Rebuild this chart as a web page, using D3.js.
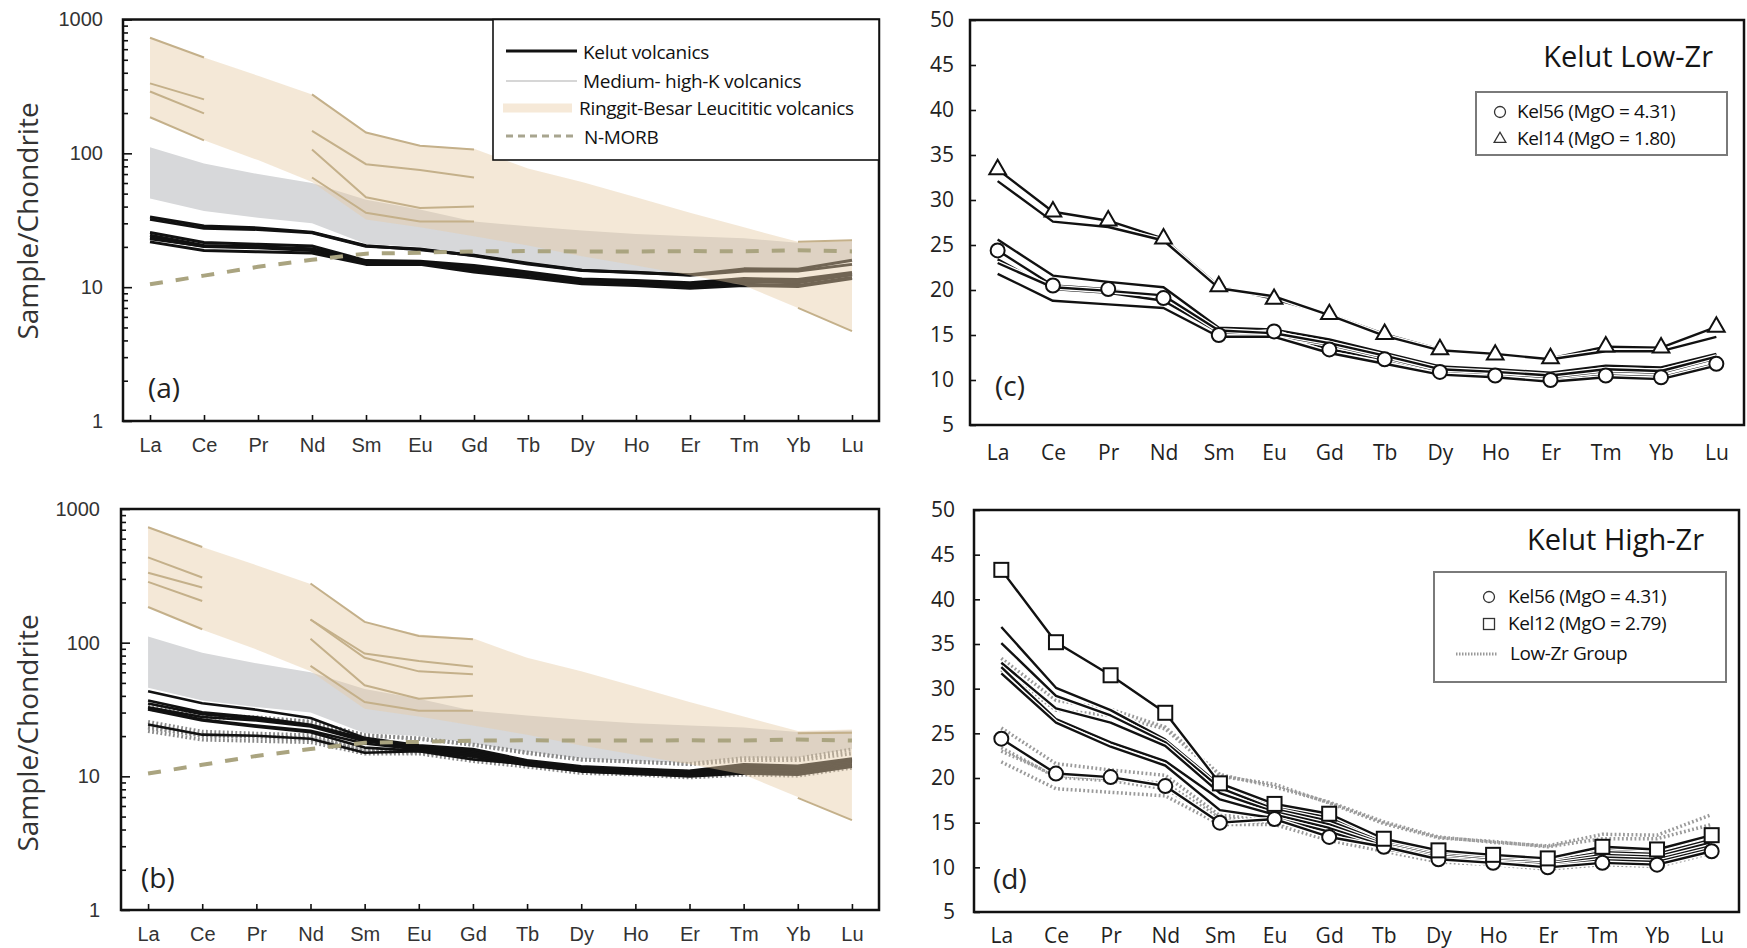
<!DOCTYPE html>
<html><head><meta charset="utf-8">
<script src="https://cdn.jsdelivr.net/npm/d3@7"></script>
<style>body{margin:0;background:#fff} svg{display:block}</style>
</head><body>
<svg id="chart" width="1747" height="948"></svg>
<script>
// ---------------- DATA ----------------
const elements = ["La","Ce","Pr","Nd","Sm","Eu","Gd","Tb","Dy","Ho","Er","Tm","Yb","Lu"];
const logTickValues = [1,10,100,1000];
const linTickValues = [5,10,15,20,25,30,35,40,45,50];

// N-MORB, chondrite normalised
const nMorb = [10.5,12.2,14.2,16.0,17.8,18.1,18.5,18.6,18.5,18.5,18.6,18.5,18.9,18.5];

// Ringgit-Besar leucititic field
const ringgitUpper = [740,520,380,275,143,115,108,77,61,47,36,28,21.8,22.4];
const ringgitLower = [186,125,89,61,32,28,24,20.5,17,14.5,12.3,10.3,7.0,4.7];
// Medium- high-K field
const medKUpper = [111,84,70,60,45,38,31,28.5,26.5,25,24,23.2,21.5,22];
const medKLower = [46,37,33,30,21,20,17.5,15.3,13.6,13.0,12.6,13.8,13.8,16];

// Ringgit-Besar individual samples (partial patterns)
const ringgitLaCeA = [[730,520],[333,253],[290,199],[186,125]];
const ringgitNdGdA = [[276,143,114,107],[147,83,75,66],[107,47,39,40],[66,36,31,31]];
const ringgitYbLuA = [[21.8,22.4],[7.0,4.7]];
const ringgitLaCeB = [[730,520],[435,307],[333,259],[285,205],[185,126]];
const ringgitNdGdB = [[277,143,112,106],[149,83,73,66],[149,77,61,58],[107,48,38,40],[67,36,31,31]];
const ringgitYbLuB = [[21.0,21.2],[6.9,4.7]];

// Kelut Low-Zr group
const kel14   = [33.4,28.7,27.7,25.7,20.4,19.0,17.3,15.1,13.4,12.8,12.4,13.7,13.6,15.9];
const kel56   = [24.4,20.5,20.1,19.1,15.0,15.4,13.4,12.3,10.9,10.5,10.0,10.5,10.3,11.8];
const lowZrB  = [32.1,27.6,27.0,25.5,20.2,19.3,17.2,14.9,13.3,12.9,12.3,13.2,13.2,14.8];
const lowZrC  = [25.6,21.6,20.9,20.3,15.8,15.6,14.5,13.0,11.5,11.2,10.8,11.6,11.4,12.9];
const lowZrD  = [23.4,20.1,19.7,18.8,15.3,15.0,13.9,12.5,11.0,10.7,10.3,11.0,10.8,12.4];
const lowZrE  = [23.0,20.3,19.9,19.4,15.5,15.2,14.1,12.7,11.2,10.9,10.5,11.2,11.0,12.6];
const lowZrF  = [21.8,18.8,18.4,18.0,14.8,14.8,13.0,11.8,10.6,10.3,9.8,10.3,10.1,11.6];

// Kelut High-Zr group
const kel12   = [43.3,35.2,31.5,27.3,19.4,17.1,16.0,13.2,11.9,11.4,11.0,12.3,12.0,13.6];
const highZrB = [36.9,30.1,27.6,24.3,19.2,16.8,15.6,13.0,11.7,11.2,10.9,12.0,11.7,13.4];
const highZrC = [35.1,29.2,27.0,24.0,18.9,16.5,15.2,12.8,11.5,11.0,10.7,11.7,11.5,13.1];
const highZrD = [32.9,27.8,26.2,23.6,18.3,16.2,14.8,12.6,11.3,10.8,10.5,11.4,11.2,12.8];
const highZrE = [32.4,26.6,24.0,21.9,17.6,15.9,14.4,12.4,11.1,10.6,10.3,11.1,10.9,12.4];
const highZrF = [31.7,26.2,23.5,21.4,16.4,15.5,14.0,12.1,10.9,10.4,10.1,10.8,10.6,12.1];

const lowZrAll  = [kel14, lowZrB, lowZrC, kel56, lowZrD, lowZrE, lowZrF];
const lowZrOthers = [kel14, lowZrB, lowZrC, lowZrD, lowZrE, lowZrF];
const highZrAll = [highZrB, highZrC, highZrD, highZrE, highZrF, kel12];

const legendLabelsA = ["Kelut volcanics","Medium- high-K volcanics","Ringgit-Besar Leucititic volcanics","N-MORB"];
const legendLabelsC = ["Kel56 (MgO = 4.31)","Kel14 (MgO = 1.80)"];
const legendLabelsD = ["Kel56 (MgO = 4.31)","Kel12 (MgO = 2.79)","Low-Zr Group"];
const yTitle = "Sample/Chondrite";

// ---------------- STYLE ----------------
const SANS = "'Open Sans', 'Noto Sans', sans-serif";
const ARIAL = "'Liberation Sans', Arial, sans-serif";
const BEIGE = "#e6cba6", BEIGE_OP = 0.45;
const GRAY = "#d7d8da";
const TAN = "#c4b08a";
const MORB = "#aaa480";
const DOT = "#8a8a8a";

const svg = d3.select("#chart");
const defs = svg.append("defs");

const panels = {
  a: {x0:123, x1:879, y0:19.5, y1:421, log:true},
  b: {x0:121, x1:879, y0:509, y1:910, log:true},
  c: {x0:970, x1:1744, y0:20, y1:425, log:false},
  d: {x0:974, x1:1739, y0:510, y1:912, log:false}
};

function scales(p){
  const x = d3.scalePoint().domain(elements).range([p.x0, p.x1]).padding(0.5);
  const y = p.log ? d3.scaleLog().domain([1,1000]).range([p.y1, p.y0])
                  : d3.scaleLinear().domain([5,50]).range([p.y1, p.y0]);
  return {x, y};
}
function lineGen(x, y, start){
  return d3.line().x((d,i)=>x(elements[(start||0)+i])).y(d=>y(d));
}
function clipFor(id, p){
  defs.append("clipPath").attr("id","clip-"+id).append("rect")
    .attr("x",p.x0).attr("y",p.y0).attr("width",p.x1-p.x0).attr("height",p.y1-p.y0);
  return "url(#clip-"+id+")";
}
function box(g, p){
  g.append("rect").attr("x",p.x0).attr("y",p.y0).attr("width",p.x1-p.x0).attr("height",p.y1-p.y0)
    .attr("fill","none").attr("stroke","#111").attr("stroke-width",2.5);
}

// ---------- log panels (a) & (b) ----------
function drawLogPanel(id, opt){
  const p = panels[id];
  const {x, y} = scales(p);
  const g = svg.append("g");
  const plot = g.append("g").attr("clip-path", clipFor(id,p));
  const idx = d3.range(elements.length);

  plot.append("path")
    .attr("d", d3.area().x(i=>x(elements[i])).y0(i=>y(medKLower[i])).y1(i=>y(medKUpper[i]))(idx))
    .attr("fill", GRAY);

  (opt.dotted||[]).forEach(s=>{
    plot.append("path").attr("d", lineGen(x,y)(s)).attr("fill","none")
      .attr("stroke",DOT).attr("stroke-width",3.8).attr("stroke-dasharray","1.8,2.4");
  });
  opt.black.forEach(s=>{
    plot.append("path").attr("d", lineGen(x,y)(s)).attr("fill","none")
      .attr("stroke","#111").attr("stroke-width",opt.lw).attr("stroke-linejoin","round");
  });

  plot.append("path")
    .attr("d", d3.area().x(i=>x(elements[i])).y0(i=>y(ringgitLower[i])).y1(i=>y(ringgitUpper[i]))(idx))
    .attr("fill", BEIGE).attr("fill-opacity", BEIGE_OP);

  const tanLine = (s, start)=> plot.append("path").attr("d", lineGen(x,y,start)(s))
      .attr("fill","none").attr("stroke",TAN).attr("stroke-width",2);
  opt.laCe.forEach(s=>tanLine(s,0));
  opt.ndGd.forEach(s=>tanLine(s,3));
  opt.ybLu.forEach(s=>tanLine(s,12));

  plot.append("path").attr("d", lineGen(x,y)(nMorb)).attr("fill","none")
    .attr("stroke",MORB).attr("stroke-width",4).attr("stroke-dasharray","13,13");

  const yMajor = d3.axisLeft(y).tickValues(logTickValues).tickFormat(d3.format("d"))
    .tickSize(-9).tickPadding(opt.yPad);
  const yMinor = d3.axisLeft(y).tickValues(y.ticks().filter(v=>!logTickValues.includes(v)))
    .tickFormat("").tickSize(-5);
  const ga = g.append("g").attr("transform",`translate(${p.x0},0)`).call(yMajor);
  const gm = g.append("g").attr("transform",`translate(${p.x0},0)`).call(yMinor);
  const gx = g.append("g").attr("transform",`translate(0,${p.y1})`)
    .call(d3.axisBottom(x).tickSize(-6).tickPadding(17));
  [ga,gm,gx].forEach(a=>{
    a.select(".domain").remove();
    a.selectAll("line").attr("stroke","#111").attr("stroke-width",1.6);
    a.selectAll("text").attr("font-family",ARIAL).attr("font-size",20).attr("fill","#333");
  });
  box(g,p);

  g.append("text").attr("transform",`translate(38,${opt.titleY}) rotate(-90)`)
    .attr("text-anchor","middle").attr("font-family",SANS).attr("font-size",28).attr("fill","#333")
    .text(yTitle);
  g.append("text").attr("x",opt.tagX).attr("y",opt.tagY).attr("font-family",SANS)
    .attr("font-size",28).attr("fill","#222").text(opt.tag);
  return g;
}

const gA = drawLogPanel("a", {black: lowZrAll, lw:3, laCe:ringgitLaCeA, ndGd:ringgitNdGdA, ybLu:ringgitYbLuA,
  yPad:20, titleY:221, tag:"(a)", tagX:148, tagY:398});
drawLogPanel("b", {black: highZrAll.concat([kel56]), dotted: lowZrOthers, lw:2.6,
  laCe:ringgitLaCeB, ndGd:ringgitNdGdB, ybLu:ringgitYbLuB,
  yPad:21, titleY:733, tag:"(b)", tagX:141, tagY:888});

// legend (a)
(function(){
  const L = gA.append("g");
  L.append("rect").attr("x",493).attr("y",19.5).attr("width",386).attr("height",140.5)
    .attr("fill","#fff").attr("stroke","#111").attr("stroke-width",1.6);
  const rows = [
    {y:51, tb:59, tx:583, s:{stroke:"#111", w:3}},
    {y:81, tb:88, tx:583, s:{stroke:"#d6d6d6", w:2}},
    {y:108, tb:115, tx:579, s:{stroke:"#f6e9d8", w:9}},
    {y:136, tb:144, tx:584, s:{stroke:"#a8a58f", w:3, dash:"7,5"}}
  ];
  rows.forEach((r,i)=>{
    L.append("line").attr("x1",i===2?503:506).attr("x2",i===2?572:577).attr("y1",r.y).attr("y2",r.y)
      .attr("stroke",r.s.stroke).attr("stroke-width",r.s.w).attr("stroke-dasharray",r.s.dash||null);
    L.append("text").attr("x",r.tx).attr("y",r.tb).attr("font-family",SANS).attr("font-size",19)
      .attr("fill","#111").attr("letter-spacing","-0.3").text(legendLabelsA[i]);
  });
})();

// ---------- linear panels (c) & (d) ----------
function markerCircle(g, cx, cy, r, sw){
  g.append("circle").attr("cx",cx).attr("cy",cy).attr("r",r).attr("fill","#fff")
    .attr("stroke","#111").attr("stroke-width",sw);
}
function markerSquare(g, cx, cy, s, sw){
  g.append("rect").attr("x",cx-s/2).attr("y",cy-s/2).attr("width",s).attr("height",s)
    .attr("fill","#fff").attr("stroke","#111").attr("stroke-width",sw);
}
function markerTri(g, cx, cy, size, sw){
  g.append("path").attr("d", d3.symbol(d3.symbolTriangle, size)())
    .attr("transform",`translate(${cx},${cy})`).attr("fill","#fff")
    .attr("stroke","#111").attr("stroke-width",sw);
}

function drawLinPanel(id, opt){
  const p = panels[id];
  const {x, y} = scales(p);
  const g = svg.append("g");
  const plot = g.append("g").attr("clip-path", clipFor(id,p));

  (opt.dotted||[]).forEach(s=>{
    plot.append("path").attr("d", lineGen(x,y)(s)).attr("fill","none")
      .attr("stroke","#9a9a9a").attr("stroke-width",3.5).attr("stroke-dasharray","1.8,2.4");
  });
  opt.black.forEach(s=>{
    plot.append("path").attr("d", lineGen(x,y)(s)).attr("fill","none")
      .attr("stroke","#fff").attr("stroke-width",5);
    plot.append("path").attr("d", lineGen(x,y)(s)).attr("fill","none")
      .attr("stroke","#111").attr("stroke-width",2.4).attr("stroke-linejoin","round");
  });
  opt.markers.forEach(m=>{
    m.data.forEach((v,i)=>m.fn(plot, x(elements[i]), y(v)));
  });

  const gy = g.append("g").attr("transform",`translate(${p.x0},0)`)
    .call(d3.axisLeft(y).tickValues(linTickValues).tickSize(-6).tickPadding(opt.yPad));
  const gx = g.append("g").attr("transform",`translate(0,${p.y1})`)
    .call(d3.axisBottom(x).tickSize(0).tickPadding(opt.xPad));
  [gy,gx].forEach(a=>{
    a.select(".domain").remove();
    a.selectAll("line").attr("stroke","#111").attr("stroke-width",1.6);
    a.selectAll("text").attr("font-family",SANS).attr("font-size",21).attr("fill","#222");
  });
  box(g,p);

  g.append("text").attr("x",opt.titleX).attr("y",opt.titleY).attr("text-anchor","end")
    .attr("font-family",SANS).attr("font-size",29).attr("fill","#151515").text(opt.title);
  g.append("text").attr("x",opt.tagX).attr("y",opt.tagY).attr("font-family",SANS)
    .attr("font-size",28).attr("fill","#222").text(opt.tag);
  return g;
}

const gC = drawLinPanel("c", {
  black: lowZrAll,
  markers: [
    {data: kel56, fn:(g,cx,cy)=>markerCircle(g,cx,cy,7,2)},
    {data: kel14, fn:(g,cx,cy)=>markerTri(g,cx,cy,120,2)}
  ],
  yPad:16, xPad:20, title:"Kelut Low-Zr", titleX:1713, titleY:67, tag:"(c)", tagX:995, tagY:396
});
const gD = drawLinPanel("d", {
  black: highZrAll.slice(0,5).concat([kel56, kel12]),
  dotted: lowZrOthers,
  markers: [
    {data: kel56, fn:(g,cx,cy)=>markerCircle(g,cx,cy,7,2)},
    {data: kel12, fn:(g,cx,cy)=>markerSquare(g,cx,cy,14,2)}
  ],
  yPad:19, xPad:16, title:"Kelut High-Zr", titleX:1704, titleY:550, tag:"(d)", tagX:993, tagY:889
});

// legend (c)
(function(){
  const L = gC.append("g");
  L.append("rect").attr("x",1476).attr("y",92).attr("width",251).attr("height",63)
    .attr("fill","#fff").attr("stroke","#7a7a7a").attr("stroke-width",2);
  L.append("circle").attr("cx",1500).attr("cy",112).attr("r",5.5).attr("fill","none")
    .attr("stroke","#333").attr("stroke-width",1.3);
  L.append("path").attr("d", d3.symbol(d3.symbolTriangle, 60)()).attr("transform","translate(1500,139)")
    .attr("fill","none").attr("stroke","#333").attr("stroke-width",1.3);
  [118,145].forEach((yb,i)=>L.append("text").attr("x",1517).attr("y",yb).attr("font-family",SANS)
    .attr("font-size",19).attr("letter-spacing","-0.4").attr("fill","#111").text(legendLabelsC[i]));
})();
// legend (d)
(function(){
  const L = gD.append("g");
  L.append("rect").attr("x",1434).attr("y",572).attr("width",292).attr("height",110)
    .attr("fill","#fff").attr("stroke","#7a7a7a").attr("stroke-width",2);
  L.append("circle").attr("cx",1489).attr("cy",597).attr("r",5.5).attr("fill","none")
    .attr("stroke","#333").attr("stroke-width",1.3);
  L.append("rect").attr("x",1483.5).attr("y",618.5).attr("width",11).attr("height",11).attr("fill","none")
    .attr("stroke","#333").attr("stroke-width",1.3);
  L.append("line").attr("x1",1456).attr("x2",1497).attr("y1",654).attr("y2",654)
    .attr("stroke","#999").attr("stroke-width",3).attr("stroke-dasharray","1.5,1.5");
  [[1508,603],[1508,630],[1510,660]].forEach((pt,i)=>L.append("text").attr("x",pt[0]).attr("y",pt[1])
    .attr("font-family",SANS).attr("font-size",19).attr("letter-spacing","-0.4").attr("fill","#111")
    .text(legendLabelsD[i]));
})();
</script>
</body></html>
